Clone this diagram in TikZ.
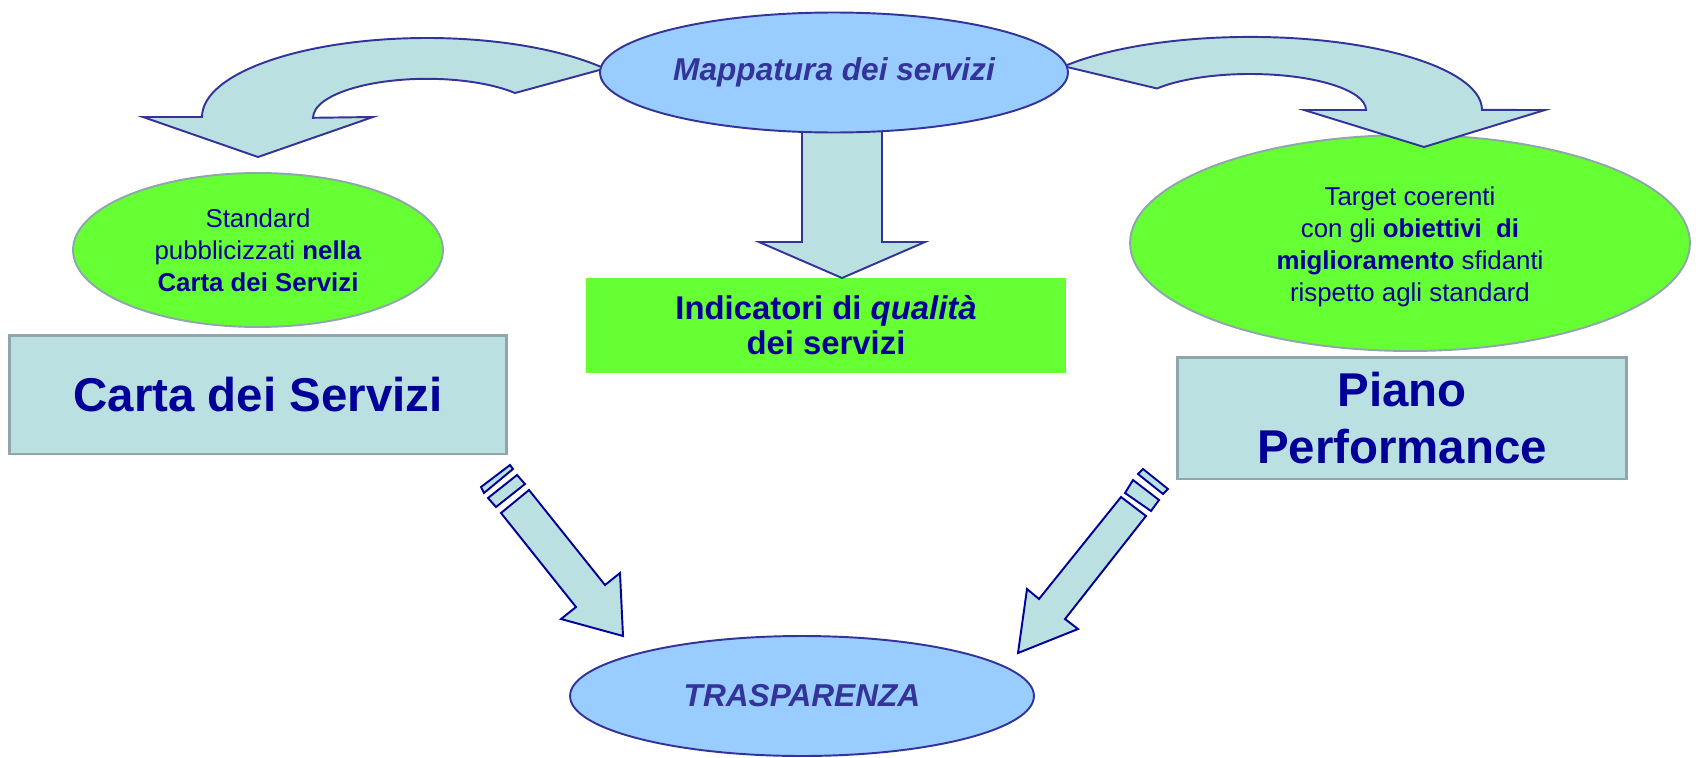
\documentclass[tikz,border=0pt]{standalone}
\usepackage{fontspec}
\setmainfont{Liberation Sans}
\usepackage{xcolor}
\usepackage{tikz}
\usetikzlibrary{shapes.geometric}

\definecolor{skyblue}{HTML}{99CCFF}
\definecolor{slateblue}{HTML}{333399}
\definecolor{navyblue}{HTML}{000099}
\definecolor{lightgreen}{HTML}{66FF33}
\definecolor{paleteal}{HTML}{BAE0E2}
\definecolor{greyedge}{HTML}{8FA6AA}

\begin{document}
\begin{tikzpicture}[
        x=0.02cm, y=-0.02cm,
        bluebubble/.style={ellipse, draw=slateblue, fill=skyblue, line width=1.1pt, inner sep=0pt,
            text=slateblue, font=\fontsize{18}{21}\selectfont\bfseries\itshape},
        greenbubble/.style={ellipse, draw=greyedge, fill=lightgreen, line width=1.1pt, inner sep=0pt,
            text=navyblue, align=center, font=\fontsize{14.7}{18.1}\selectfont},
        titlebox/.style={rectangle, draw=greyedge, fill=paleteal, line width=1.7pt, inner sep=0pt,
            text=navyblue, align=center, font=\fontsize{27}{32.3}\selectfont\bfseries},
        blockarrow/.style={draw=slateblue, fill=paleteal, line width=1.1pt},
        slantarrow/.style={draw=navyblue, fill=paleteal, line width=1.1pt}
    ]
    \useasboundingbox (0,0) rectangle (1696,757);

    % Green ellipses (standards and targets)
    \node[greenbubble, minimum width=7.4cm, minimum height=3.08cm] (std) at (258,250)
        {Standard\\ pubblicizzati \textbf{nella}\\ \textbf{Carta dei Servizi}};
    \node[greenbubble, minimum width=11.2cm, minimum height=4.32cm] (target) at (1410,243) {};
    \node[text=navyblue, align=center, inner sep=0pt, font=\fontsize{14.7}{18.1}\selectfont]
        (targettext) at ([yshift=-0.08cm]target.center)
        {Target coerenti\\ con gli \textbf{obiettivi~ di}\\ \textbf{miglioramento} sfidanti\\ rispetto agli standard};

    % Boxes
    \node[titlebox, minimum width=9.96cm, minimum height=2.38cm] (carta) at (258,394.5) {Carta dei Servizi};
    \node[titlebox, minimum width=9cm, minimum height=2.44cm] (piano) at (1402,418) {Piano\\ Performance};
    \node[rectangle, fill=lightgreen, inner sep=0pt, minimum width=9.6cm, minimum height=1.9cm,
        text=navyblue, align=center, font=\fontsize{18.7}{19.8}\selectfont\bfseries] (indic) at (826,325.5)
        {Indicatori di \textit{qualità}\\ dei servizi};

    % Curved arrows from the top ellipse
    \draw[blockarrow] (143,117) -- (202,117)
        arc[start angle=180, end angle=322.2, x radius=225, y radius=79]
        -- (515,93) arc[start angle=320.5, end angle=180, x radius=114, y radius=39]
        -- (373,117) -- (258,157) -- cycle;
    \draw[blockarrow] (1064,66.3)
        arc[start angle=216.7, end angle=360, x radius=232, y radius=73]
        -- (1545,110) -- (1424,147) -- (1304,110) -- (1366,110)
        arc[start angle=360, end angle=216.7, x radius=116, y radius=36] -- cycle;

    % Straight arrow down to the indicators
    \draw[blockarrow] (802,115) -- (802,242) -- (759,242) -- (842,278) -- (925,242) -- (882,242) -- (882,115) -- cycle;

    % Top ellipse
    \node[bluebubble, minimum width=9.36cm, minimum height=2.4cm] (mappa) at (834,72.5) {Mappatura dei servizi};

    % Striped arrows down to transparency
    \draw[slantarrow] (481,487) -- (510,465) -- (513,469) -- (484,493) -- cycle;
    \draw[slantarrow] (488,498) -- (517,475) -- (525,484) -- (496,507) -- cycle;
    \draw[slantarrow] (501,513) -- (529,490) -- (605,585) -- (620,573) -- (623,636) -- (561,619) -- (576,607) -- cycle;
    \draw[slantarrow] (1138,474) -- (1143,469) -- (1168,489) -- (1163,494) -- cycle;
    \draw[slantarrow] (1125,493) -- (1133,480) -- (1159,500) -- (1151,511) -- cycle;
    \draw[slantarrow] (1121,497) -- (1146,516) -- (1065,619) -- (1078,629) -- (1018,653) -- (1027,589) -- (1039,599) -- cycle;

    % Bottom ellipse
    \node[bluebubble, minimum width=9.28cm, minimum height=2.4cm] (trasp) at (802,696) {TRASPARENZA};

\end{tikzpicture}
\end{document}
